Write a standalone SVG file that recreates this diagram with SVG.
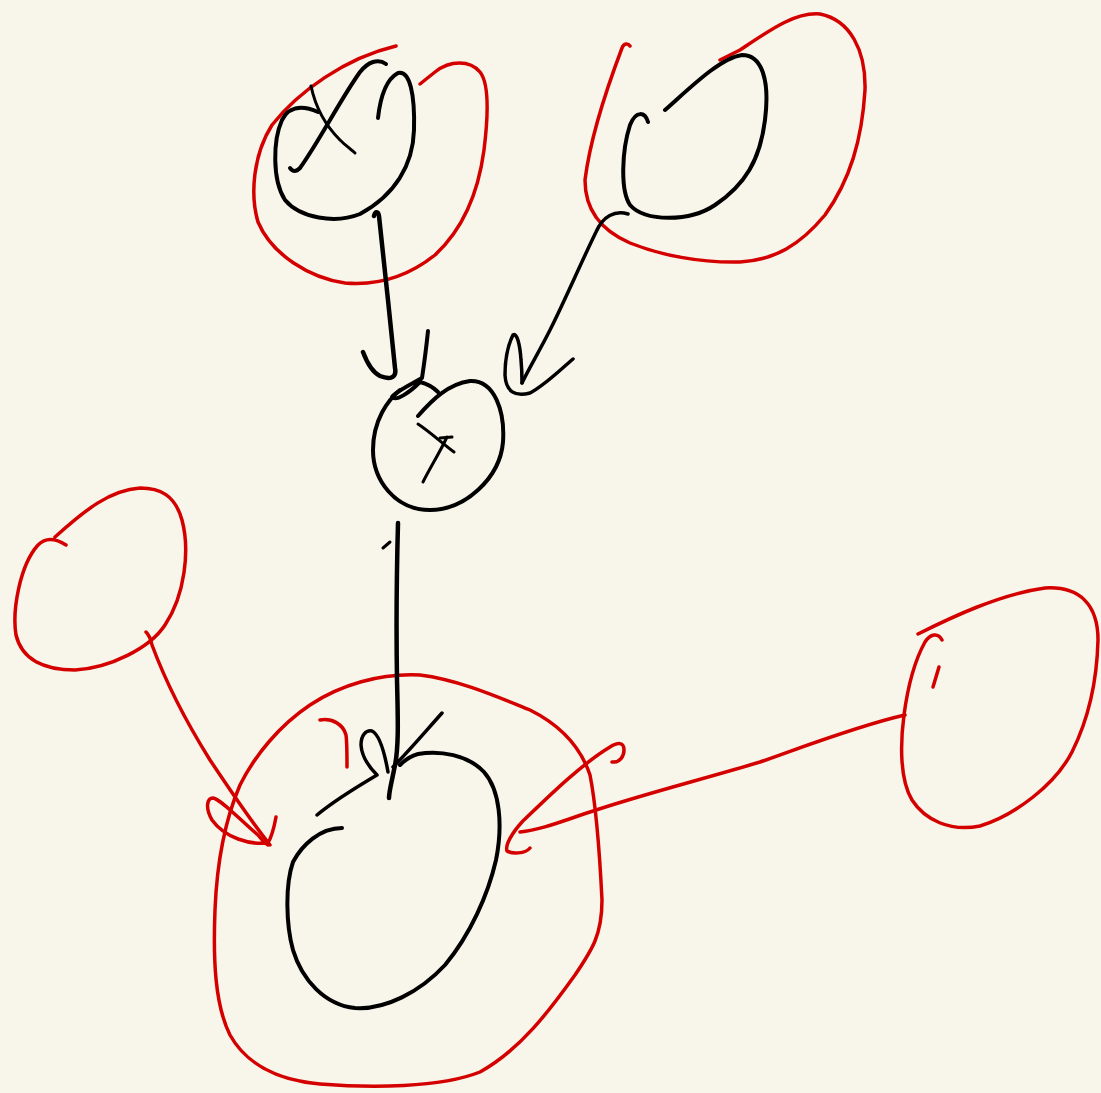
<svg xmlns="http://www.w3.org/2000/svg" width="1101" height="1093" viewBox="0 0 1101 1093">
<style>
.k{fill:none;stroke:#000;stroke-width:4;stroke-linecap:round;stroke-linejoin:round}
.r{fill:none;stroke:#d40000;stroke-width:3.5;stroke-linecap:round;stroke-linejoin:round}
</style>
<rect width="1101" height="1093" fill="#f8f6ea"/>
<g id="node-top-left">
<path class="r" d="M396,46 C345,58 298,92 272,125 C253,155 250,195 258,222 C272,255 310,278 345,283 C380,286 410,275 435,255 C462,230 478,195 484,150 C489,110 488,82 480,72 C470,60 450,60 435,72 L420,84"/>
<path class="k" d="M378,118 C380,100 385,80 398,73 C410,70 415,95 414,130 C413,165 395,195 360,214 C335,224 300,218 285,200 C272,180 273,140 282,120 C288,108 300,104 318,112"/>
<path class="k" d="M290,168 C293,172 296,172 300,168 C320,140 340,100 360,72 C368,62 378,58 386,64"/>
<path class="k" style="stroke-width:3" d="M311,86 C315,105 325,125 340,140 C345,145 352,150 355,153"/>
</g>
<g id="node-top-right">
<path class="r" d="M630,46 C628,43 624,43 622,48 C608,85 590,140 585,180 C585,210 600,230 630,243 C660,255 700,263 740,262 C775,260 800,245 825,215 C850,180 862,140 865,90 C866,50 850,20 820,14 C795,12 770,30 740,50 L720,60"/>
<path class="k" d="M648,122 C645,112 636,110 630,125 C622,150 620,190 630,205 C645,222 690,222 715,205 C745,185 760,160 765,120 C770,80 762,55 742,55 C720,58 690,88 665,110"/>
</g>
<g id="node-center">
<path class="k" d="M418,416 C432,400 448,384 470,381 C495,380 505,412 503,442 C500,478 465,510 430,510 C395,510 373,480 373,450 C373,420 388,400 400,390"/>
<path class="k" style="stroke-width:3" d="M418,424 C430,432 442,443 454,452"/>
<path class="k" style="stroke-width:3" d="M440,438 L452,437"/>
<path class="k" style="stroke-width:3" d="M447,437 C440,452 430,468 423,482"/>
</g>
<g id="node-left">
<path class="r" d="M66,545 C55,538 45,538 38,545 C20,565 12,610 16,635 C22,660 45,670 75,670 C110,668 150,648 165,625 C185,595 190,550 182,520 C175,495 160,488 140,488 C110,490 85,510 55,537"/>
</g>
<g id="node-right">
<path class="r" d="M918,634 C950,618 1000,594 1045,588 C1080,586 1098,605 1098,640 C1097,680 1088,720 1072,752 C1055,785 1015,815 980,826 C950,832 925,820 912,800 C900,780 900,745 904,715 C908,685 915,660 925,642 C930,634 938,632 942,640"/>
<path class="r" d="M939,667 L933,687"/>
</g>
<g id="node-bottom">
<path class="r" d="M347,767 C347,755 347,742 346,735 C343,724 332,718 320,720"/>
<path class="r" d="M420,675 C460,680 500,698 530,710 C560,725 580,745 590,775 C597,810 600,860 602,900 C602,935 592,950 575,975 C550,1010 520,1050 480,1072 C440,1088 370,1088 320,1084 C275,1080 245,1062 230,1035 C215,1005 213,960 215,910 C217,860 225,820 240,785 C255,755 280,725 310,705 C340,685 380,673 420,675"/>
<path class="k" d="M342,828 C320,828 302,845 293,862 C285,885 286,925 293,950 C302,980 325,1005 355,1008 C385,1010 420,992 445,965 C470,935 488,895 496,860 C503,825 500,790 484,772 C468,755 440,750 418,754 C410,756 405,760 400,765"/>
</g>
<g id="connectors">
<path class="k" style="stroke-width:4.5" d="M374,216 C375,212 378,210 379,216 C384,260 390,320 395,368 C397,378 390,380 380,376 C372,372 366,360 363,352"/>
<path class="k" d="M428,331 C426,350 424,365 422,378 C410,385 395,392 392,397 C396,402 410,392 420,382 C428,384 434,388 438,392"/>
<path class="k" style="stroke-width:3.5" d="M628,214 C615,210 603,216 596,232 C580,265 565,300 550,330 C540,350 528,370 522,383"/>
<path class="k" style="stroke-width:3.5" d="M573,359 C560,370 545,385 530,393 C515,397 506,392 505,375 C505,360 508,345 513,335 C517,332 520,345 521,360 C522,370 522,378 522,383"/>
<path class="k" style="stroke-width:4.5" d="M398,523 C397,560 396,620 397,680 C398,720 399,750 394,770 C391,785 389,792 389,798"/>
<path class="k" style="stroke-width:3" d="M383,548 L390,542"/>
<path class="k" style="stroke-width:3.5" d="M442,713 C425,732 408,752 393,767"/>
<path class="k" style="stroke-width:3.5" d="M317,815 C335,800 355,788 377,775 C372,770 362,760 361,745 C361,735 366,730 372,731 C380,735 385,755 388,772"/>
<path class="r" d="M146,632 C149,635 151,640 152,645 C165,680 185,720 210,760 C230,790 250,820 270,845"/>
<path class="r" d="M276,817 C274,828 272,836 268,843 C250,845 225,838 212,820 C205,808 207,798 213,798 C222,800 240,820 258,835 C262,840 266,844 268,845"/>
<path class="r" d="M905,715 C860,725 800,748 760,762 C700,780 640,795 590,812 C560,822 540,830 520,832"/>
<path class="r" d="M612,762 C620,763 624,756 624,750 C624,742 618,742 610,747 C580,765 545,800 522,822 C512,833 505,845 507,851 C512,854 525,854 530,848"/>
</g>
</svg>
